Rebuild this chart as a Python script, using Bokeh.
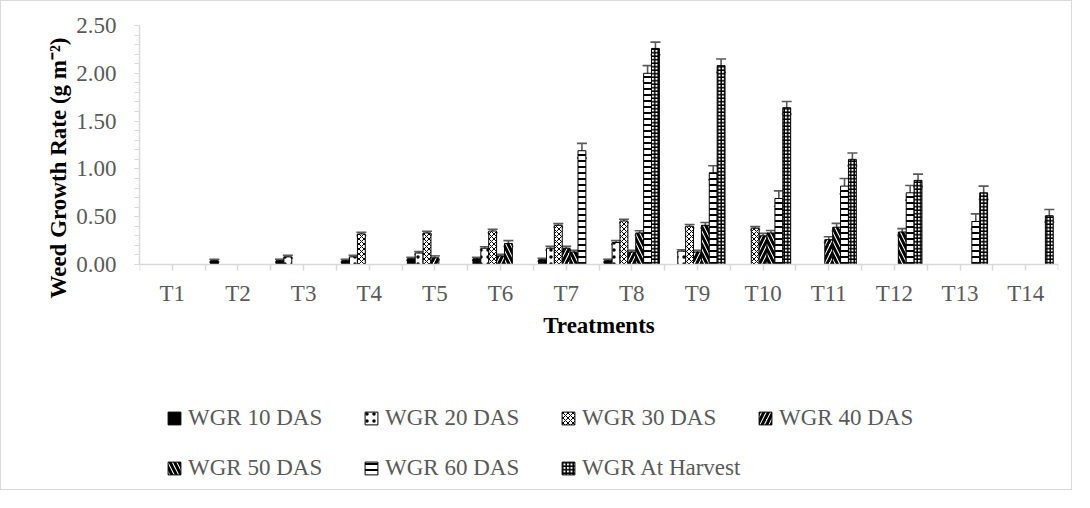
from bokeh.plotting import figure
from bokeh.models import (ColumnDataSource, Whisker, TeeHead, Legend, LegendItem,
                          FixedTicker, NumeralTickFormatter, Range1d,
                          SingleIntervalTicker, Title, CustomJSTickFormatter)
from bokeh.transform import dodge
from bokeh.embed import file_html
from bokeh.resources import INLINE

# ---------------- data ----------------
treatments = ["T1", "T2", "T3", "T4", "T5", "T6", "T7",
              "T8", "T9", "T10", "T11", "T12", "T13", "T14"]
series_names = ["WGR 10 DAS", "WGR 20 DAS", "WGR 30 DAS", "WGR 40 DAS",
                "WGR 50 DAS", "WGR 60 DAS", "WGR At Harvest"]

wgr_10 = [0, 0.04, 0.04, 0.04, 0.06, 0.06, 0.05, 0.04, 0, 0, 0, 0, 0, 0]
wgr_20 = [0, 0, 0.08, 0.08, 0.12, 0.17, 0.17, 0.23, 0.14, 0, 0, 0, 0, 0]
wgr_30 = [0, 0, 0, 0.32, 0.33, 0.35, 0.41, 0.455, 0.40, 0.38, 0, 0, 0, 0]
wgr_40 = [0, 0, 0, 0, 0.07, 0.09, 0.17, 0.13, 0.13, 0.30, 0.26, 0, 0, 0]
wgr_50 = [0, 0, 0, 0, 0, 0.22, 0.13, 0.33, 0.41, 0.33, 0.39, 0.34, 0, 0]
wgr_60 = [0, 0, 0, 0, 0, 0, 1.19, 2.00, 0.96, 0.69, 0.82, 0.75, 0.45, 0]
wgr_harvest = [0, 0, 0, 0, 0, 0, 0, 2.26, 2.08, 1.64, 1.10, 0.88, 0.75, 0.51]

err_10 = [0, 0.015, 0.015, 0.015, 0.015, 0.015, 0.015, 0.015, 0, 0, 0, 0, 0, 0]
err_20 = [0, 0, 0.015, 0.015, 0.015, 0.015, 0.02, 0.02, 0.015, 0, 0, 0, 0, 0]
err_30 = [0, 0, 0, 0.018, 0.018, 0.018, 0.018, 0.018, 0.018, 0.016, 0, 0, 0, 0]
err_40 = [0, 0, 0, 0, 0.02, 0.018, 0.02, 0.018, 0.018, 0.026, 0.03, 0, 0, 0]
err_50 = [0, 0, 0, 0, 0, 0.03, 0.018, 0.023, 0.03, 0.026, 0.04, 0.035, 0, 0]
err_60 = [0, 0, 0, 0, 0, 0, 0.077, 0.08, 0.073, 0.08, 0.08, 0.077, 0.08, 0]
err_harvest = [0, 0, 0, 0, 0, 0, 0, 0.066, 0.07, 0.065, 0.066, 0.065, 0.07, 0.066]

y_axis_max = 2.5
y_ticks_interval = 0.5

all_vals = [wgr_10, wgr_20, wgr_30, wgr_40, wgr_50, wgr_60, wgr_harvest]
all_errs = [err_10, err_20, err_30, err_40, err_50, err_60, err_harvest]

# ---------------- layout geometry (pixels) ----------------
FIG_W, FIG_H = 1072, 490
B_LEFT, B_RIGHT, B_TOP, B_BOTTOM = 138, 15, 24, 2
PX_VALUE_AREA = 239          # pixel height between value 0 and the axis top
frame_h = FIG_H - B_TOP - B_BOTTOM
y_min = y_axis_max - y_axis_max * frame_h / PX_VALUE_AREA   # room below 0 for axis + legend

# ---------------- styling ----------------
FONT = "Liberation Serif"
FS = "23px"
GREY_TXT = "#595959"
AXIS_GREY = "#d9d9d9"

bar_styles = [
    dict(fill_color="black"),
    dict(fill_color="white", hatch_pattern=".", hatch_scale=7, hatch_weight=1.6, hatch_color="black"),
    dict(fill_color="white", hatch_pattern="x", hatch_scale=5, hatch_weight=1.0, hatch_color="black"),
    dict(fill_color="white", hatch_pattern="/", hatch_scale=9, hatch_weight=3.0, hatch_color="black"),
    dict(fill_color="white", hatch_pattern="\\", hatch_scale=9, hatch_weight=3.0, hatch_color="black"),
    dict(fill_color="white", hatch_pattern="-", hatch_scale=6, hatch_weight=2.0, hatch_color="black"),
    dict(fill_color="white", hatch_pattern="+", hatch_scale=3.5, hatch_weight=1.5, hatch_color="black"),
]

p = figure(width=FIG_W, height=FIG_H, output_backend="svg", toolbar_location=None,
           x_range=Range1d(0, len(treatments)), y_range=Range1d(y_min, y_axis_max),
           min_border_left=B_LEFT, min_border_right=B_RIGHT, min_border_top=B_TOP,
           min_border_bottom=B_BOTTOM)
p.styles = {"border": "1px solid #d9d9d9"}
p.outline_line_color = None
p.xgrid.visible = False
p.ygrid.visible = False
p.background_fill_color = "white"
p.border_fill_color = "white"

bar_w = 0.12
items = []
for j, (name, vals, errs) in enumerate(zip(series_names, all_vals, all_errs)):
    idx = [i for i, v in enumerate(vals) if v > 0]
    src = ColumnDataSource(dict(
        xc=[i + 0.5 for i in idx],
        top=[vals[i] for i in idx],
        upper=[vals[i] + errs[i] for i in idx],
        lower=[vals[i] - errs[i] for i in idx],
    ))
    off = (j - 3) * bar_w
    r = p.vbar(x=dodge("xc", off), top="top", width=bar_w, bottom=0, source=src,
               line_color="black", line_width=1, **bar_styles[j])
    wh = Whisker(source=src, base=dodge("xc", off), upper="upper", lower="lower",
                 line_color="#595959", line_width=1.6,
                 upper_head=TeeHead(size=10, line_color="#595959", line_width=1.6),
                 lower_head=TeeHead(size=10, line_color="#595959", line_width=1.6))
    p.add_layout(wh)
    items.append(LegendItem(label=name, renderers=[r]))

# ---------------- axes ----------------
p.xaxis.fixed_location = 0
p.xaxis.ticker = FixedTicker(ticks=[k / 2 for k in range(0, 2 * len(treatments) + 1)])
p.xaxis.formatter = CustomJSTickFormatter(
    args=dict(labels=treatments),
    code="""
    const t = Math.round(tick * 2);
    if (t % 2 == 0) { return ""; }
    return labels[(t - 1) / 2];
    """)
p.xaxis.axis_line_color = AXIS_GREY
p.xaxis.axis_line_width = 1.5
p.xaxis.major_tick_line_color = AXIS_GREY
p.xaxis.major_tick_line_width = 1.5
p.xaxis.major_tick_out = 6
p.xaxis.major_tick_in = 0
p.xaxis.minor_tick_line_color = None
p.xaxis.major_label_text_font = FONT
p.xaxis.major_label_text_font_size = FS
p.xaxis.major_label_text_color = GREY_TXT
p.xaxis.major_label_standoff = 10
p.xaxis.axis_label = "Treatments"
p.xaxis.axis_label_text_font = FONT
p.xaxis.axis_label_text_font_size = FS
p.xaxis.axis_label_text_font_style = "bold"
p.xaxis.axis_label_text_color = "black"
p.xaxis.axis_label_standoff = 4

p.yaxis.bounds = (0, y_axis_max)
p.yaxis.ticker = SingleIntervalTicker(interval=y_ticks_interval, num_minor_ticks=5)
p.yaxis.formatter = NumeralTickFormatter(format="0.00")
p.yaxis.axis_line_color = AXIS_GREY
p.yaxis.axis_line_width = 1.5
p.yaxis.major_tick_line_color = AXIS_GREY
p.yaxis.minor_tick_line_color = AXIS_GREY
p.yaxis.major_tick_out = 5
p.yaxis.major_tick_in = 0
p.yaxis.minor_tick_out = 5
p.yaxis.minor_tick_in = 0
p.yaxis.major_label_text_font = FONT
p.yaxis.major_label_text_font_size = FS
p.yaxis.major_label_text_color = GREY_TXT
p.yaxis.major_label_standoff = 18

ytitle = Title(text="Weed Growth Rate (g m\u207b\u00b2)", align="right", offset=12,
               text_font=FONT, text_font_size=FS, text_font_style="bold",
               text_color="black", standoff=6)
p.add_layout(ytitle, "left")

# ---------------- legend: two rows inside the lower part of the frame ----------------
def make_legend(its, loc):
    return Legend(items=its, orientation="horizontal", location=loc,
                  label_text_font=FONT, label_text_font_size=FS,
                  label_text_color=GREY_TXT, glyph_width=16, glyph_height=16,
                  label_standoff=6, spacing=24, label_width=151, label_height=25,
                  padding=0, margin=0, border_line_color=None,
                  background_fill_alpha=0)

p.add_layout(make_legend(items[:4], (27, 58)))
p.add_layout(make_legend(items[4:], (27, 8)))

open("out.html", "w").write(file_html(p, INLINE))
